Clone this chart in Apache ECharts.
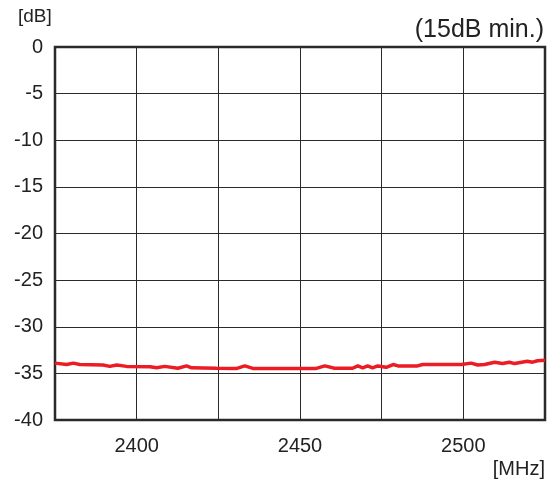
<!DOCTYPE html>
<html>
<head>
<meta charset="utf-8">
<script src="https://cdn.jsdelivr.net/npm/echarts@6/dist/echarts.min.js"></script>
<style>
html,body{margin:0;padding:0;background:#fff;}
#chart{width:552px;height:483px;}
</style>
</head>
<body>
<div id="chart"></div>
<script>
var freqMHz = [2375, 2378.6, 2380.6, 2382.6, 2389.7, 2391.8, 2393.9, 2396.9, 2404.1, 2406.1,
  2408.6, 2412.6, 2415.3, 2416.8, 2424.4, 2430.7, 2433.1, 2435.6, 2455.0, 2457.6,
  2460.6, 2466.1, 2467.7, 2469.2, 2470.7, 2472.2, 2473.8, 2476.4, 2478.5, 2480.0,
  2486.0, 2487.5, 2499.4, 2502.4, 2504.4, 2506.5, 2509.6, 2512.0, 2514.1, 2515.7,
  2519.6, 2521.2, 2522.7, 2525];
var returnLossDb = [-33.9, -34.05, -33.9, -34.05, -34.1, -34.25, -34.1, -34.25, -34.3, -34.4,
  -34.25, -34.45, -34.2, -34.4, -34.45, -34.47, -34.2, -34.47, -34.47, -34.2,
  -34.45, -34.45, -34.2, -34.4, -34.2, -34.4, -34.2, -34.35, -34.05, -34.2,
  -34.2, -34.05, -34.05, -33.9, -34.1, -34.05, -33.8, -33.95, -33.8, -33.95,
  -33.7, -33.8, -33.65, -33.6];
var xLabeled = [2400, 2450, 2500];
var yTicks = [0, -5, -10, -15, -20, -25, -30, -35, -40];

var chart = echarts.init(document.getElementById('chart'), null, {renderer: 'canvas'});
var font = "'Liberation Sans', Arial, sans-serif";
var seriesData = freqMHz.map(function (f, i) { return [f, returnLossDb[i]]; });

chart.setOption({
  animation: false,
  backgroundColor: '#ffffff',
  grid: {left: 55, right: 7, top: 47, bottom: 63, show: true, borderColor: '#2a2a2a', borderWidth: 2.5, backgroundColor: 'transparent'},
  title: {
    text: '(15dB min.)', right: 3, top: 13,
    textStyle: {fontFamily: font, fontSize: 25, fontWeight: 'normal', color: '#222'}
  },
  graphic: [
    {type: 'text', left: 18, top: 7, style: {text: '[dB]', font: "19px 'Liberation Sans', Arial, sans-serif", fill: '#222'}},
    {type: 'text', right: 7, top: 459, style: {text: '[MHz]', font: "20px 'Liberation Sans', Arial, sans-serif", fill: '#222'}}
  ],
  xAxis: {
    type: 'value', min: 2375, max: 2525, interval: 25,
    axisLine: {show: false}, axisTick: {show: false},
    splitLine: {show: true, lineStyle: {color: '#2a2a2a', width: 1}},
    axisLabel: {
      margin: 16, fontFamily: font, fontSize: 20, color: '#222',
      formatter: function (v) { return xLabeled.indexOf(v) >= 0 ? String(v) : ''; }
    }
  },
  yAxis: {
    type: 'value', min: -40, max: 0, interval: 5,
    axisLine: {show: false}, axisTick: {show: false},
    splitLine: {show: true, lineStyle: {color: '#2a2a2a', width: 1}},
    axisLabel: {
      margin: 12, fontFamily: font, fontSize: 20, color: '#222',
      formatter: function (v) { return yTicks.indexOf(v) >= 0 ? String(v) : ''; }
    }
  },
  series: [{
    type: 'line', data: seriesData, symbol: 'none', smooth: false,
    lineStyle: {color: '#ec1c24', width: 3.5},
    z: 3
  }]
});
</script>
</body>
</html>
